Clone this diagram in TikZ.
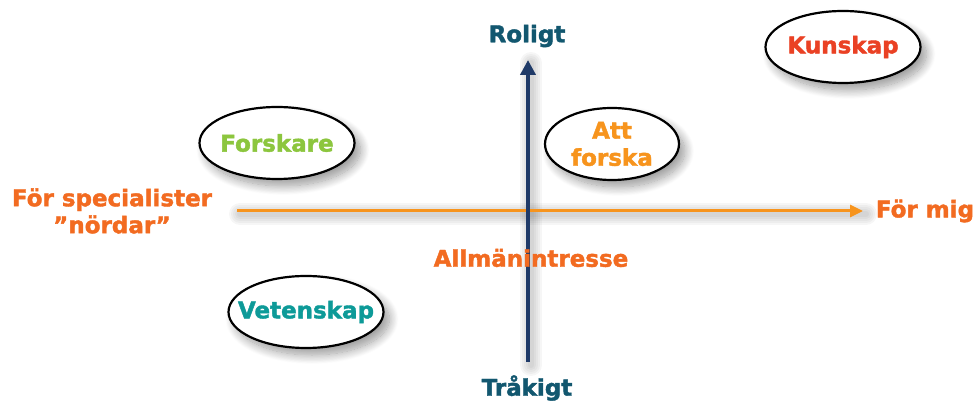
\documentclass[tikz,border=0pt]{standalone}
\usepackage{fontspec}
\setmainfont{DejaVu Sans}[BoldFeatures={FakeBold=1.8}]
\usetikzlibrary{arrows.meta,shapes.geometric,shadows.blur}
\definecolor{tealdark}{HTML}{12576F}
\definecolor{orangelab}{HTML}{F26B21}
\definecolor{orangelight}{HTML}{F7941D}
\definecolor{greenlab}{HTML}{8CC63E}
\definecolor{teallab}{HTML}{0D9A98}
\definecolor{redlab}{HTML}{EA4124}
\definecolor{navy}{HTML}{1F3A68}
\tikzset{
  lab/.style={font=\fontsize{23}{27}\selectfont\bfseries, inner sep=0pt, align=center},
  bubble/.style={ellipse, draw=black, line width=2.2pt, fill=white,
    minimum width=155pt, minimum height=72pt, inner xsep=-20pt, inner ysep=-6pt, align=center,
    font=\fontsize{23}{27}\selectfont\bfseries,
    blur shadow={shadow xshift=6pt, shadow yshift=-7pt, shadow blur steps=16, shadow blur radius=9pt, shadow opacity=40}},
  axisshadow/.style={draw=black, opacity=0.035, line cap=round},
}
\begin{document}
\begin{tikzpicture}[x=1pt,y=-1pt]
\useasboundingbox (0,0) rectangle (978,403);
% axis coordinates
\coordinate (vbot) at (528,362);
\coordinate (vtop) at (528,60);
\coordinate (hleft) at (237,211);
\coordinate (hright) at (863,211);
% soft shadows of the axes
\foreach \w in {6,10,14,18,22}{
  \draw[axisshadow, line width=\w pt] ([xshift=3pt,yshift=-3pt]vbot) -- ([xshift=3pt,yshift=-3pt]vtop);
  \draw[axisshadow, line width=\w pt] ([xshift=3pt,yshift=-3pt]hleft) -- ([xshift=3pt,yshift=-3pt]hright);
}
% axes
\draw[line width=3pt, orangelight, -{Triangle[length=13pt,width=12pt]}] (hleft) -- (hright);
\draw[line width=4pt, navy, -{Triangle[length=15pt,width=15pt]}] (vbot) -- (vtop);
% labels
\node[lab, text=tealdark] (roligt) at (527,36) {Roligt};
\node[lab, text=tealdark] (trakigt) at (527,388) {Tråkigt};
\node[lab, text=orangelab] (allm) at (531,258) {Allmänintresse};
\node[lab, text=orangelab] (formig) at (925,211) {För mig};
\node[lab, text=orangelab] (spec) at (112,211) {För specialister\\”nördar”};
% bubbles
\node[bubble, text=greenlab] (forskare) at (277,143) {Forskare};
\node[bubble, text=orangelight, minimum width=134pt] (attforska) at (612,144) {Att\\forska};
\node[bubble, text=redlab] (kunskap) at (843,47) {Kunskap};
\node[bubble, text=teallab] (vetenskap) at (306,312) {Vetenskap};
\end{tikzpicture}
\end{document}
